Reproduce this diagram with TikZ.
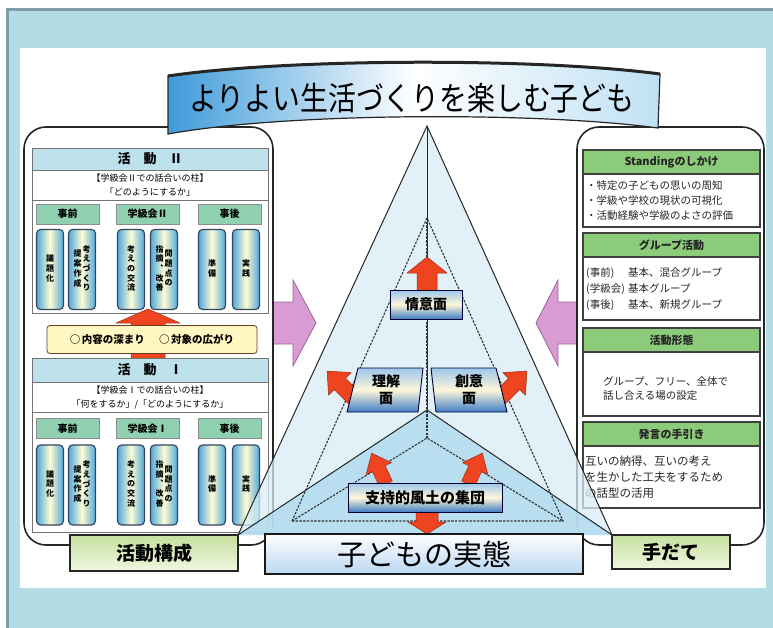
\documentclass[tikz,border=0pt]{standalone}
\usepackage{fontspec}
\setmainfont{Noto Sans CJK JP}
\definecolor{bgblue}{HTML}{B3DCE4}
\definecolor{framegray}{HTML}{7F9DA8}
\definecolor{hdrblue}{HTML}{BEE2EC}
\definecolor{mint}{HTML}{8FD0B0}
\definecolor{pillblue}{HTML}{4FA8DC}
\definecolor{pillyel}{HTML}{FFFBD2}
\definecolor{pillbd}{HTML}{34435E}
\definecolor{rgreen}{HTML}{8CCB7A}
\definecolor{arrred}{HTML}{EE4420}
\definecolor{arrbd}{HTML}{A02A12}
\definecolor{pinkarr}{HTML}{D99BD3}
\definecolor{pinkbd}{HTML}{9A689A}
\definecolor{facepale}{HTML}{D8EDF5}
\definecolor{facebot}{HTML}{B0DAEE}
\definecolor{boxblue}{HTML}{3F7DC6}
\definecolor{boxlblue}{HTML}{9CC6EC}
\definecolor{boxcream}{HTML}{FFF7D8}
\definecolor{gtop}{HTML}{C4DF9E}
\definecolor{gbot}{HTML}{F1F7E0}
\definecolor{bannerblue}{HTML}{3E9BD9}
\definecolor{bannerlight}{HTML}{BFE1F4}
\definecolor{yelbox}{HTML}{FFF6C2}
\newcommand\vcol[1]{\begin{tabular}[c]{@{}c@{}}#1\end{tabular}}
\tikzset{
  sec/.style={draw=black!55, line width=0.7pt},
  hdrL/.style={sec, fill=hdrblue},
  hdrtxt/.style={font={\fontsize{13}{15}\selectfont\bfseries}, inner sep=0pt},
  subt/.style={font={\fontsize{9}{11}\selectfont}, inner sep=0pt},
  subh/.style={draw=black!45, line width=0.6pt, fill=mint, minimum width=63pt, minimum height=20pt, inner sep=0pt, font={\fontsize{10}{12}\selectfont\bfseries}},
  pill/.style={draw=pillbd, line width=1.1pt, rounded corners=4pt, left color=pillblue, right color=pillblue, middle color=pillyel, minimum width=27pt, minimum height=80pt, inner sep=0pt, font={\fontsize{8}{9.6}\selectfont\bfseries}},
  redarr/.style={fill=arrred, draw=arrbd, line width=0.5pt, line join=round},
  pinkarrow/.style={fill=pinkarr, draw=pinkbd, line width=0.8pt},
  bigbox/.style={draw=black!85, line width=1.6pt, fill=white, rounded corners=22pt},
  rsec/.style={draw=black!75, line width=1.2pt, fill=white},
  rhdr/.style={draw=black!75, line width=1.2pt, fill=rgreen},
  rhtxt/.style={font={\fontsize{11}{13}\selectfont\bfseries}, text=black!85, inner sep=0pt},
  rbody/.style={font={\fontsize{10.5}{12}\selectfont}, anchor=west, inner sep=0pt, text=black!85},
  cbox/.style={draw=black!80!blue, line width=0.9pt, top color=boxlblue, bottom color=boxblue, middle color=boxcream},
  ctxt/.style={font={\fontsize{14}{17}\selectfont\bfseries}, align=center, inner sep=0pt},
  greenbox/.style={draw=black!85, line width=1.4pt, top color=gtop, bottom color=gbot, inner sep=0pt, font={\fontsize{19}{21}\selectfont\bfseries}},
  tline/.style={draw=black!85, line width=1pt},
  dline/.style={draw=black!80, line width=1.1pt, dash pattern=on 2.4pt off 1.3pt}
}
\begin{document}
\begin{tikzpicture}[x=1pt,y=-1pt]
\useasboundingbox (0,0) rectangle (773,628);
% background and frame
\fill[white] (0,0) rectangle (773,628);
\fill[bgblue] (6,8) rectangle (773,628);
\draw[framegray, line width=3pt] (7.5,628) -- (7.5,9.5) -- (773,9.5);
\fill[white] (20,48) rectangle (766,588);

% pink arrows
\draw[pinkarrow] (268,302) -- (293,302) -- (293,280) -- (316,323) -- (293,366) -- (293,344) -- (268,344) -- cycle;
\draw[pinkarrow] (582,302) -- (558,302) -- (558,280) -- (536,323) -- (558,366) -- (558,344) -- (582,344) -- cycle;

% big rounded boxes
\draw[bigbox] (24,127) rectangle (273,545);
\draw[bigbox] (577,127) rectangle (764,545);

% ---------- left: activity II ----------
\draw[sec, fill=white] (32,148) rectangle (268,313);
\draw[hdrL] (32,148) rectangle (268,170);
\node[hdrtxt] (t2) at (150,159) {活　動　Ⅱ};
\draw[sec] (32,200) -- (268,200);
\node[subt] (s2a) at (150,178) {【学級会Ⅱでの話合いの柱】};
\node[subt] (s2b) at (150,192) {「どのようにするか」};
\node[subh] (a2) at (67.5,214) {事前};
\node[subh] (b2) at (147.5,214) {学級会Ⅱ};
\node[subh] (c2) at (229.5,214) {事後};
\node[pill] (p21) at (50,269.5) {\vcol{議\\題\\化}};
\node[pill] (p22) at (82,269.5) {\vcol{提\\案\\作\\成}\hspace{1pt}\vcol{考\\え\\づ\\く\\り}};
\node[pill] (p23) at (131,269.5) {\vcol{考\\え\\の\\交\\流}};
\node[pill] (p24) at (164,269.5) {\vcol{指\\摘\\︑\\改\\善}\hspace{1pt}\vcol{問\\題\\点\\の}};
\node[pill] (p25) at (212,269.5) {\vcol{準\\備}};
\node[pill] (p26) at (246,269.5) {\vcol{実\\践}};

% red arrow and yellow box
\draw[redarr] (131,360) -- (131,323) -- (116,323) -- (148,309) -- (180,323) -- (165,323) -- (165,360) -- cycle;
\node[draw=black!50!brown, line width=0.8pt, fill=yelbox, rounded corners=3pt, minimum width=210pt, minimum height=28pt, inner sep=0pt, font={\fontsize{10.5}{12}\selectfont\bfseries}] (yb) at (152,339.5) {○\,内容の深まり\hspace{14pt}○\,対象の広がり};

% ---------- left: activity I ----------
\draw[sec, fill=white] (32,358) rectangle (268,532);
\draw[hdrL] (32,358) rectangle (268,382);
\node[hdrtxt] (t1) at (150,370) {活　動　Ⅰ};
\draw[sec] (32,412) -- (268,412);
\node[subt] (s1a) at (150,390) {【学級会Ⅰでの話合いの柱】};
\node[subt] (s1b) at (150,404) {「何をするか」/「どのようにするか」};
\node[subh] (a1) at (67.5,428.5) {事前};
\node[subh] (b1) at (147.5,428.5) {学級会Ⅰ};
\node[subh] (c1) at (229.5,428.5) {事後};
\node[pill] (p11) at (50,485) {\vcol{議\\題\\化}};
\node[pill] (p12) at (82,485) {\vcol{提\\案\\作\\成}\hspace{1pt}\vcol{考\\え\\づ\\く\\り}};
\node[pill] (p13) at (131,485) {\vcol{考\\え\\の\\交\\流}};
\node[pill] (p14) at (164,485) {\vcol{指\\摘\\︑\\改\\善}\hspace{1pt}\vcol{問\\題\\点\\の}};
\node[pill] (p15) at (212,485) {\vcol{準\\備}};
\node[pill] (p16) at (246,485) {\vcol{実\\践}};

% ---------- right side ----------
\draw[rsec] (583,150) rectangle (760,227);
\draw[rhdr] (583,150) rectangle (760,174);
\node[rhtxt] (r1) at (671.5,162) {Standingのしかけ};
\node[rbody] (r1a) at (586,186) {・特定の子どもの思いの周知};
\node[rbody] (r1b) at (586,201) {・学級や学校の現状の可視化};
\node[rbody] (r1c) at (586,216) {・活動経験や学級のよさの評価};

\draw[rsec] (583,233) rectangle (760,320);
\draw[rhdr] (583,233) rectangle (760,257);
\node[rhtxt] (r2) at (671.5,245) {グループ活動};
\node[rbody] (r2a) at (586,273) {(事前)};
\node[rbody] (r2b) at (586,289) {(学級会)};
\node[rbody] (r2c) at (586,305) {(事後)};
\node[rbody] (r2d) at (628,273) {基本、混合グループ};
\node[rbody] (r2e) at (628,289) {基本グループ};
\node[rbody] (r2f) at (628,305) {基本、新規グループ};

\draw[rsec] (583,328) rectangle (760,416);
\draw[rhdr] (583,328) rectangle (760,352);
\node[rhtxt] (r3) at (671.5,340) {活動形態};
\node[rbody] (r3a) at (603,381) {グループ、フリー、全体で};
\node[rbody] (r3b) at (603,396) {話し合える場の設定};

\draw[rsec] (583,422) rectangle (760,508);
\draw[rhdr] (583,422) rectangle (760,446);
\node[rhtxt] (r4) at (671.5,434) {発言の手引き};
\node[rbody, font={\fontsize{11.5}{13}\selectfont}] (r4a) at (585,461) {互いの納得、互いの考え};
\node[rbody, font={\fontsize{11.5}{13}\selectfont}] (r4b) at (585,477) {を生かした工夫をするため};
\node[rbody, font={\fontsize{11.5}{13}\selectfont}] (r4c) at (585,493) {の話型の活用};

% ---------- central pyramid ----------
\coordinate (A) at (427,126);
\coordinate (L) at (238,535);
\coordinate (R) at (612,535);
\coordinate (C) at (427,410);
\fill[facepale, fill opacity=0.75] (A) -- (L) -- (R) -- cycle;
\fill[facebot, fill opacity=0.8] (C) -- (L) -- (R) -- cycle;
\draw[tline] (L) -- (A) -- (R);
\draw[tline] (A) -- (C);
\draw[tline] (L) -- (C) -- (R);
\coordinate (DA) at (427,218);
\coordinate (DL) at (292,521);
\coordinate (DR) at (563,521);
\coordinate (DC) at (427,438);
\draw[dline] (DL) -- (DA) -- (DR) -- cycle;
\draw[dline] (DA) -- (DC);
\draw[dline] (DL) -- (DC) -- (DR);

% red arrows
\draw[redarr] (417,292) -- (417,273) -- (407,273) -- (427,257) -- (447,273) -- (437,273) -- (437,292) -- cycle;
\draw[redarr, shift={(354,398)}, rotate=45] (-8,0) -- (-8,-20) -- (-16,-20) -- (0,-38) -- (16,-20) -- (8,-20) -- (8,0) -- cycle;
\draw[redarr, shift={(500,398)}, rotate=-45] (-8,0) -- (-8,-20) -- (-16,-20) -- (0,-38) -- (16,-20) -- (8,-20) -- (8,0) -- cycle;
\draw[redarr, shift={(386,484)}, rotate=25] (-7,0) -- (-7,-17) -- (-14,-17) -- (0,-34) -- (14,-17) -- (7,-17) -- (7,0) -- cycle;
\draw[redarr, shift={(468,484)}, rotate=-25] (-7,0) -- (-7,-17) -- (-14,-17) -- (0,-34) -- (14,-17) -- (7,-17) -- (7,0) -- cycle;
\draw[redarr] (416,510) -- (416,522) -- (408,522) -- (427,534) -- (446,522) -- (438,522) -- (438,510) -- cycle;

% central boxes
\node[cbox, minimum width=72pt, minimum height=29pt, inner sep=0pt] (jyoi) at (426,304.5) {};
\node[ctxt] (jyoit) at (426,304.5) {情意面};
\draw[cbox] (358,368) -- (423,368) -- (418,412) -- (347,412) -- cycle;
\node[ctxt] (rikai) at (386,390) {理解\\面};
\draw[cbox] (431,368) -- (496,368) -- (507,412) -- (436,412) -- cycle;
\node[ctxt] (soui) at (469,390) {創意\\面};
\node[cbox, minimum width=154pt, minimum height=29pt, inner sep=0pt] (shiji) at (425,497.5) {};
\node[ctxt, font={\fontsize{15}{17}\selectfont\bfseries}] (shijit) at (425,497.5) {支持的風土の集団};

% bottom boxes
\node[greenbox, minimum width=168pt, minimum height=36pt] (kk) at (154,553) {活動構成};
\node[greenbox, minimum width=118pt, minimum height=34pt] (td) at (671,552) {手だて};
\node[draw=black!90, line width=1.6pt, top color=white, bottom color=boxlblue!70, minimum width=318pt, minimum height=40pt, inner sep=0pt, font={\fontsize{29}{31}\selectfont}] (kj) at (424,554) {子どもの実態};

% title banner
\path[left color=bannerblue, right color=bannerlight, middle color=white, draw=black!85, line width=1.2pt] (168,76) .. controls (290,58) and (540,58) .. (660,74) -- (658,128) .. controls (540,112) and (290,112) .. (168,134) -- cycle;
\draw[line width=3pt, black!85] (168,76) .. controls (290,58) and (540,58) .. (660,74);
\node[inner sep=0pt, font={\fontsize{29}{31}\selectfont}] (title) at (412,98) {\scalebox{0.96}[1.12]{よりよい生活づくりを楽しむ子ども}};
\end{tikzpicture}
\end{document}
